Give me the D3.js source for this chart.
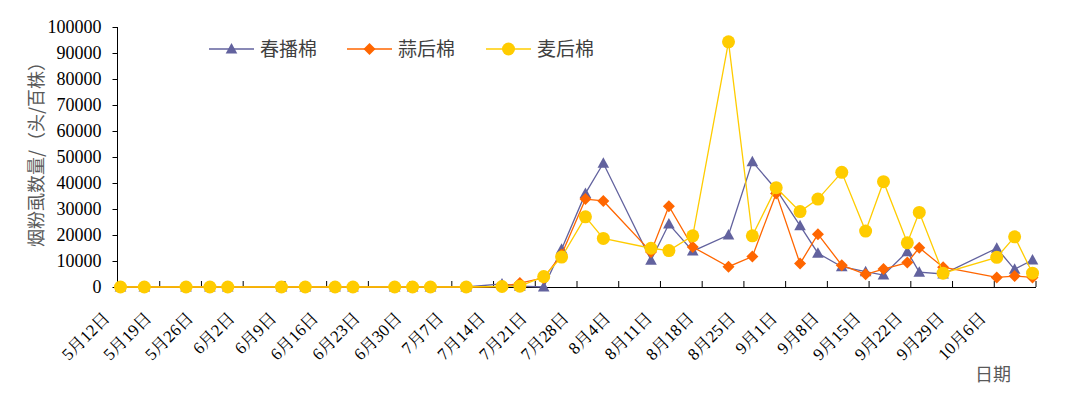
<!DOCTYPE html>
<html>
<head>
    <meta charset="utf-8">
    <title>烟粉虱数量</title>
</head>
<body style="margin:0;background:#fff">
    <svg width="1069" height="395"></svg>
    <script src="https://d3js.org/d3.v7.min.js"></script>
    <script>
    // sampling dates (month-day, same year)
    var dates = ["5-12","5-16","5-23","5-27","5-30","6-08","6-12","6-17","6-20","6-27","6-30","7-03","7-09",
                 "7-15","7-18","7-22","7-25","7-29","8-01","8-09","8-12","8-16","8-22","8-26","8-30",
                 "9-03","9-06","9-10","9-14","9-17","9-21","9-23","9-27","10-06","10-09","10-12"];
    // 春播棉
    var spring = [0,0,0,0,0,0,0,0,0,0,0,0,0,
                  1200,300,0,14500,36000,47600,10300,24200,13800,20000,48200,37500,
                  23600,13000,7800,5900,4600,13600,5700,5000,14900,6800,10400];
    // 蒜后棉
    var garlic = [0,0,0,0,0,0,0,0,0,0,0,0,0,
                  200,1500,3500,12500,33800,33100,13500,31100,15400,7800,11700,36000,
                  9000,20300,8400,4900,6900,9400,15100,7600,3700,4200,3700];
    // 麦后棉
    var wheat = [0,0,0,0,0,0,0,0,0,0,0,0,0,
                 200,300,4000,11500,27000,18700,14900,14000,19700,94300,19700,38200,
                 29000,33800,44100,21500,40500,17000,28700,5300,11400,19300,5300];
    var yTicks = d3.range(0, 100001, 10000);
    var seriesNames = ["春播棉", "蒜后棉", "麦后棉"];
    var seriesColors = ["#62629e", "#ff6600", "#ffcc00"];

    var tickFont = "'Liberation Serif', 'Noto Serif CJK SC', serif";
    var titleFont = "'Noto Sans CJK SC', sans-serif";

    var parse = function(s) {
      var p = s.split("-");
      return new Date(2000, +p[0] - 1, +p[1], 12); // points sit mid-day (between tick marks)
    };

    var svg = d3.select("svg");
    var x0 = 117.5, x1 = 1035.5, yTop = 27, yBot = 287;

    var x = d3.scaleTime()
        .domain([new Date(2000, 4, 12), new Date(2000, 9, 13)])
        .range([x0, x1]);
    var y = d3.scaleLinear().domain([0, 100000]).range([yBot, yTop]);

    // y axis
    var yAxis = svg.append("g")
        .attr("transform", "translate(" + x0 + ",0)")
        .call(d3.axisLeft(y).tickValues(yTicks).tickSize(5).tickPadding(11).tickFormat(d3.format("d")));
    yAxis.select(".domain").attr("d", "M0," + yTop + "V" + yBot).attr("stroke", "#000");
    yAxis.selectAll(".tick text")
        .style("font-family", tickFont)
        .style("font-size", "18px")
        .attr("fill", "#000");

    // x axis: weekly ticks pointing inward
    var weekTicks = d3.range(0, 23).map(function(i) { return d3.timeDay.offset(new Date(2000, 4, 12), i * 7); });
    var xAxis = svg.append("g")
        .attr("transform", "translate(0," + yBot + ")")
        .call(d3.axisBottom(x).tickValues(weekTicks).tickSizeInner(-6).tickSizeOuter(0).tickFormat(""));
    xAxis.select(".domain").attr("stroke", "#000");

    svg.append("g").selectAll("text")
      .data(weekTicks.slice(0, 22))
      .join("text")
        .style("font-family", tickFont)
        .style("font-size", "17px")
        .attr("fill", "#000")
        .attr("text-anchor", "end")
        .attr("dy", "0.35em")
        .attr("transform", function(d) { return "translate(" + (x(d) - 11) + ",315) rotate(-45)"; })
        .text(function(d) { return (d.getMonth() + 1) + "月" + d.getDate() + "日"; });

    // axis titles
    svg.append("text")
        .style("font-family", titleFont)
        .style("font-size", "18px")
        .attr("fill", "#595959")
        .attr("text-anchor", "middle")
        .attr("transform", "translate(43,150) rotate(-90)")
        .text("烟粉虱数量/（头/百株）");
    svg.append("text")
        .style("font-family", titleFont)
        .style("font-size", "18px")
        .attr("fill", "#595959")
        .attr("x", 975).attr("y", 381)
        .text("日期");

    // markers
    var markerPaths = [
      "M0,-6L5.8,4.5L-5.8,4.5Z",
      "M0,-6L6,0L0,6L-6,0Z",
      d3.symbol(d3.symbolCircle, Math.PI * 6.5 * 6.5)()
    ];

    var allSeries = [spring, garlic, wheat];
    var line = d3.line()
        .x(function(d, i) { return x(parse(dates[i])); })
        .y(function(d) { return y(d); });

    allSeries.forEach(function(vals, k) {
      var g = svg.append("g");
      g.append("path")
          .datum(vals)
          .attr("fill", "none")
          .attr("stroke", seriesColors[k])
          .attr("stroke-width", 1.3)
          .attr("d", line);
      g.selectAll(".mk")
        .data(vals)
        .join("path")
          .attr("class", "mk")
          .attr("fill", seriesColors[k])
          .attr("transform", function(d, i) { return "translate(" + x(parse(dates[i])) + "," + y(d) + ")"; })
          .attr("d", markerPaths[k]);
    });

    // legend
    var legendX = [209, 347, 486];
    var legend = svg.append("g").selectAll("g")
      .data(seriesNames)
      .join("g")
        .attr("transform", function(d, i) { return "translate(" + legendX[i] + ",49)"; });
    legend.append("line")
        .attr("x1", 0).attr("x2", 45)
        .attr("stroke", function(d, i) { return seriesColors[i]; })
        .attr("stroke-width", 1.3);
    legend.append("path")
        .attr("transform", "translate(22.5,0)")
        .attr("fill", function(d, i) { return seriesColors[i]; })
        .attr("d", function(d, i) { return markerPaths[i]; });
    legend.append("text")
        .style("font-family", titleFont)
        .style("font-size", "19px")
        .attr("fill", "#404040")
        .attr("x", 51)
        .attr("dy", "0.36em")
        .text(function(d) { return d; });
    </script>
</body>
</html>
